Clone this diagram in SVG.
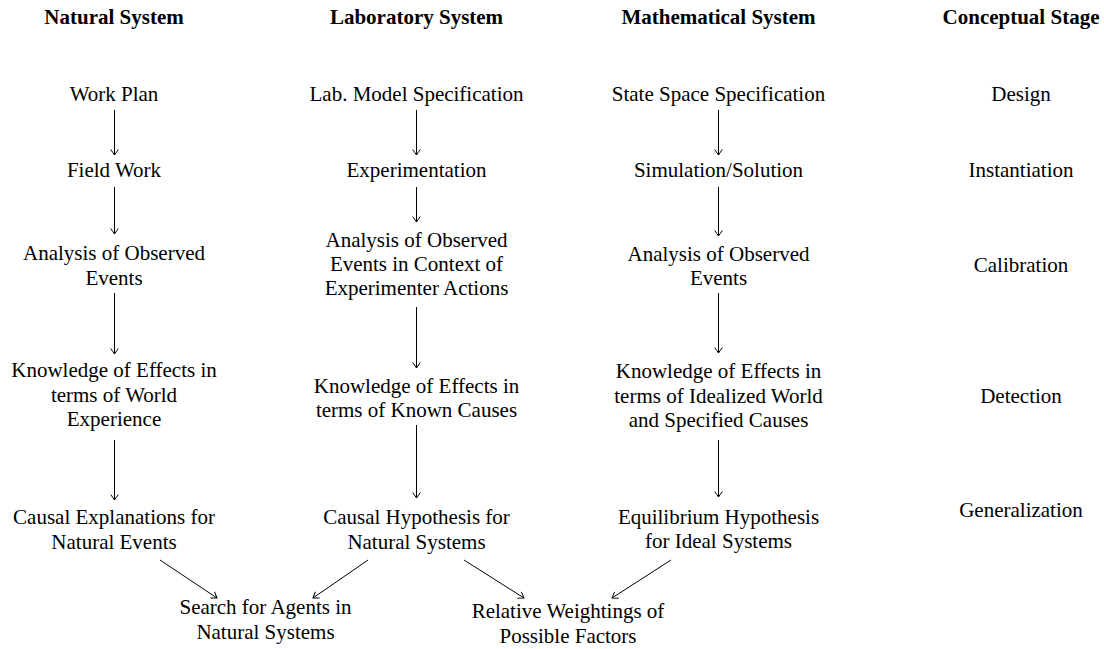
<svg xmlns="http://www.w3.org/2000/svg" width="1104" height="649" viewBox="0 0 1104 649">
<style>
text{font-family:'Liberation Serif','DejaVu Serif',serif;font-size:21px;fill:#000;text-anchor:middle}
.h{font-weight:bold}
.c line{stroke:#000;stroke-width:1;marker-end:url(#a)}
</style>
<defs>
<marker id="a" viewBox="-7 -5 8 10" refX="0" refY="0" markerWidth="8" markerHeight="10" markerUnits="userSpaceOnUse" orient="auto">
<path d="M-5.5,-3.8 Q-1.5,-1 0,0 Q-1.5,1 -5.5,3.8" fill="none" stroke="#000" stroke-width="1"/>
</marker>
</defs>
<rect width="1104" height="649" fill="#fff"/>
<g id="headings">
<text class="h" x="114" y="24">Natural System</text>
<text class="h" x="416.5" y="24">Laboratory System</text>
<text class="h" x="718.5" y="24">Mathematical System</text>
<text class="h" x="1021" y="24">Conceptual Stage</text>
</g>
<g id="n1"><text x="114" y="101">Work Plan</text></g>
<g id="n2"><text x="114" y="177">Field Work</text></g>
<g id="n3"><text x="114" y="260">Analysis of Observed</text><text x="114" y="285">Events</text></g>
<g id="n4"><text x="114" y="377">Knowledge of Effects in</text><text x="114" y="401.5">terms of World</text><text x="114" y="426">Experience</text></g>
<g id="n5"><text x="114" y="524">Causal Explanations for</text><text x="114" y="548.5">Natural Events</text></g>
<g id="l1"><text x="416.5" y="101">Lab. Model Specification</text></g>
<g id="l2"><text x="416.5" y="177">Experimentation</text></g>
<g id="l3"><text x="416.5" y="247">Analysis of Observed</text><text x="416.5" y="271">Events in Context of</text><text x="416.5" y="295">Experimenter Actions</text></g>
<g id="l4"><text x="416.5" y="393">Knowledge of Effects in</text><text x="416.5" y="417">terms of Known Causes</text></g>
<g id="l5"><text x="416.5" y="524">Causal Hypothesis for</text><text x="416.5" y="548.5">Natural Systems</text></g>
<g id="m1"><text x="718.5" y="101">State Space Specification</text></g>
<g id="m2"><text x="718.5" y="177">Simulation/Solution</text></g>
<g id="m3"><text x="718.5" y="261">Analysis of Observed</text><text x="718.5" y="285">Events</text></g>
<g id="m4"><text x="718.5" y="378">Knowledge of Effects in</text><text x="718.5" y="402.5">terms of Idealized World</text><text x="718.5" y="427">and Specified Causes</text></g>
<g id="m5"><text x="718.5" y="523.5">Equilibrium Hypothesis</text><text x="718.5" y="548">for Ideal Systems</text></g>
<g id="s1"><text x="1021" y="101">Design</text></g>
<g id="s2"><text x="1021" y="177">Instantiation</text></g>
<g id="s3"><text x="1021" y="272">Calibration</text></g>
<g id="s4"><text x="1021" y="403">Detection</text></g>
<g id="s5"><text x="1021" y="517">Generalization</text></g>
<g id="b1"><text x="265.5" y="614">Search for Agents in</text><text x="265.5" y="639">Natural Systems</text></g>
<g id="b2"><text x="568" y="618">Relative Weightings of</text><text x="568" y="643">Possible Factors</text></g>
<g id="connectors" class="c">
<line x1="114.5" y1="110" x2="114.5" y2="155"/>
<line x1="114.5" y1="187" x2="114.5" y2="234"/>
<line x1="114.5" y1="293" x2="114.5" y2="354"/>
<line x1="114.5" y1="440" x2="114.5" y2="500"/>
<line x1="416.5" y1="110" x2="416.5" y2="155"/>
<line x1="416.5" y1="187" x2="416.5" y2="222"/>
<line x1="416.5" y1="307" x2="416.5" y2="368"/>
<line x1="416.5" y1="425" x2="416.5" y2="498"/>
<line x1="718.5" y1="110" x2="718.5" y2="155"/>
<line x1="718.5" y1="187" x2="718.5" y2="236"/>
<line x1="718.5" y1="293" x2="718.5" y2="353"/>
<line x1="718.5" y1="440" x2="718.5" y2="497"/>
<line x1="160" y1="560" x2="217" y2="598"/>
<line x1="368" y1="560" x2="313" y2="598"/>
<line x1="464" y1="560" x2="524" y2="598"/>
<line x1="671" y1="560" x2="612" y2="598"/>
</g>
</svg>
